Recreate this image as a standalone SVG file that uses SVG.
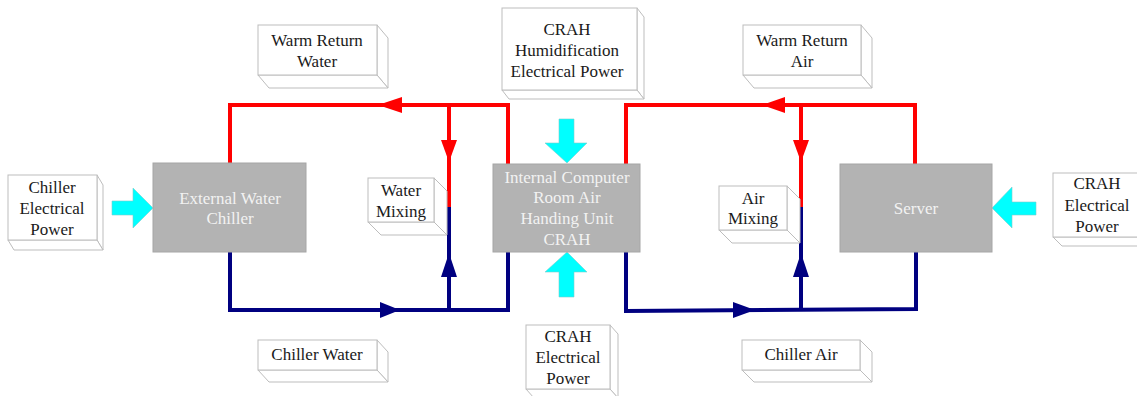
<svg xmlns="http://www.w3.org/2000/svg" width="1137" height="396" viewBox="0 0 1137 396">
<style>
.bx{fill:#FFFFFF;stroke:#BDBDBD;stroke-width:1}
.unit{fill:#B3B3B3;stroke:#A6A6A6;stroke-width:1}
.t{font-family:"Liberation Serif","Times New Roman",serif;font-size:17px;fill:#1A1A1A;text-anchor:middle}
.tw{font-family:"Liberation Serif","Times New Roman",serif;font-size:17px;fill:#F2F2F2;text-anchor:middle}
.red{fill:none;stroke:#FF0000;stroke-width:4;stroke-linejoin:miter}
.blue{fill:none;stroke:#000080;stroke-width:4;stroke-linejoin:miter}
.rh{fill:#FF0000}
.bh{fill:#000080}
.cy{fill:#00FFFF;stroke:#7ACFCF;stroke-width:0.6}
</style>

<g id="connectors">
  <!-- left water loop -->
  <polyline class="red" points="230,163 230,105 508,105 508,164"/>
  <line class="red" x1="449" y1="105" x2="449" y2="207"/>
  <polyline class="blue" points="230,252 230,310 508,310 508,252"/>
  <line class="blue" x1="449" y1="310" x2="449" y2="207"/>
  <polygon class="rh" points="378,105 402,97 402,113"/>
  <polygon class="rh" points="449,162 441,140 457,140"/>
  <polygon class="bh" points="449,253 441,277 457,277"/>
  <polygon class="bh" points="400,310 380,302 380,318"/>
  <!-- right air loop -->
  <polyline class="red" points="626,164 626,105 915,105 915,164"/>
  <line class="red" x1="801" y1="105" x2="801" y2="207"/>
  <polyline class="blue" points="626,252 626,311 916,309 916,252"/>
  <line class="blue" x1="801" y1="310" x2="801" y2="207"/>
  <polygon class="rh" points="762,105 785,97 785,113"/>
  <polygon class="rh" points="801,162 793,140 809,140"/>
  <polygon class="bh" points="801,253 793,277 809,277"/>
  <polygon class="bh" points="755,310 733,302 733,318"/>
  <!-- power arrows -->
  <polygon class="cy" points="112,201 133,201 133,188 153,208 133,228 133,215 112,215"/>
  <polygon class="cy" points="559,119 574,119 574,143 587,143 567,163 545,143 559,143"/>
  <polygon class="cy" points="567,252 587,272 574,272 574,297 559,297 559,272 545,272"/>
  <polygon class="cy" points="1036,202 1012,202 1012,187 992,208 1012,228 1012,215 1036,215"/>
</g>

<g id="chiller-power">
  <polygon class="bx" points="97,175 103,185 103,250 97,240"/>
  <polygon class="bx" points="8,240 97,240 103,250 14,250"/>
  <rect class="bx" x="8" y="175" width="89" height="65"/>
  <text class="t" x="52" y="193">Chiller</text>
  <text class="t" x="52" y="214">Electrical</text>
  <text class="t" x="52" y="235">Power</text>
</g>

<g id="chiller">
  <rect class="unit" x="153" y="163" width="153" height="89"/>
  <text class="tw" x="230" y="204">External Water</text>
  <text class="tw" x="230" y="224">Chiller</text>
</g>

<g id="warm-return-water">
  <polygon class="bx" points="377,25 388,38 388,88 377,75"/>
  <polygon class="bx" points="258,75 377,75 388,88 269,88"/>
  <rect class="bx" x="258" y="25" width="119" height="50"/>
  <text class="t" x="317" y="46">Warm Return</text>
  <text class="t" x="317" y="67">Water</text>
</g>

<g id="crah-humid-power">
  <polygon class="bx" points="637,8 644,17 644,99 637,90"/>
  <polygon class="bx" points="502,90 637,90 644,99 509,99"/>
  <rect class="bx" x="502" y="8" width="135" height="82"/>
  <text class="t" x="567" y="35">CRAH</text>
  <text class="t" x="567" y="56">Humidification</text>
  <text class="t" x="567" y="77">Electrical Power</text>
</g>

<g id="water-mixing">
  <polygon class="bx" points="434,178 447,191 447,235 434,222"/>
  <polygon class="bx" points="368,222 434,222 447,235 381,235"/>
  <rect class="bx" x="368" y="178" width="66" height="44"/>
  <text class="t" x="401" y="196">Water</text>
  <text class="t" x="401" y="217">Mixing</text>
</g>

<g id="crah">
  <rect class="unit" x="493" y="164" width="147" height="88"/>
  <text class="tw" x="567" y="183">Internal Computer</text>
  <text class="tw" x="567" y="203">Room Air</text>
  <text class="tw" x="567" y="224">Handing Unit</text>
  <text class="tw" x="567" y="245">CRAH</text>
</g>

<g id="warm-return-air">
  <polygon class="bx" points="861,25 872,38 872,88 861,75"/>
  <polygon class="bx" points="743,75 861,75 872,88 754,88"/>
  <rect class="bx" x="743" y="25" width="118" height="50"/>
  <text class="t" x="802" y="46">Warm Return</text>
  <text class="t" x="802" y="67">Air</text>
</g>

<g id="air-mixing">
  <polygon class="bx" points="787,186 800,199 800,243 787,230"/>
  <polygon class="bx" points="719,230 787,230 800,243 732,243"/>
  <rect class="bx" x="719" y="186" width="68" height="44"/>
  <text class="t" x="753" y="204">Air</text>
  <text class="t" x="753" y="224">Mixing</text>
</g>

<g id="server">
  <rect class="unit" x="840" y="164" width="152" height="88"/>
  <text class="tw" x="916" y="214">Server</text>
</g>

<g id="crah-power-right">
  <polygon class="bx" points="1053,237 1141,237 1150,246 1062,246"/>
  <rect class="bx" x="1053" y="173" width="88" height="64"/>
  <text class="t" x="1097" y="189">CRAH</text>
  <text class="t" x="1097" y="211">Electrical</text>
  <text class="t" x="1097" y="232">Power</text>
</g>

<g id="chiller-water">
  <polygon class="bx" points="377,340 388,352 388,382 377,370"/>
  <polygon class="bx" points="258,370 377,370 388,382 269,382"/>
  <rect class="bx" x="258" y="340" width="119" height="30"/>
  <text class="t" x="317" y="360">Chiller Water</text>
</g>

<g id="crah-power-bottom">
  <polygon class="bx" points="610,325 618,334 618,398 610,389"/>
  <polygon class="bx" points="526,389 610,389 618,398 534,398"/>
  <rect class="bx" x="526" y="325" width="84" height="64"/>
  <text class="t" x="568" y="342">CRAH</text>
  <text class="t" x="568" y="363">Electrical</text>
  <text class="t" x="568" y="384">Power</text>
</g>

<g id="chiller-air">
  <polygon class="bx" points="860,340 872,352 872,382 860,370"/>
  <polygon class="bx" points="742,370 860,370 872,382 754,382"/>
  <rect class="bx" x="742" y="340" width="118" height="30"/>
  <text class="t" x="801" y="360">Chiller Air</text>
</g>
</svg>
